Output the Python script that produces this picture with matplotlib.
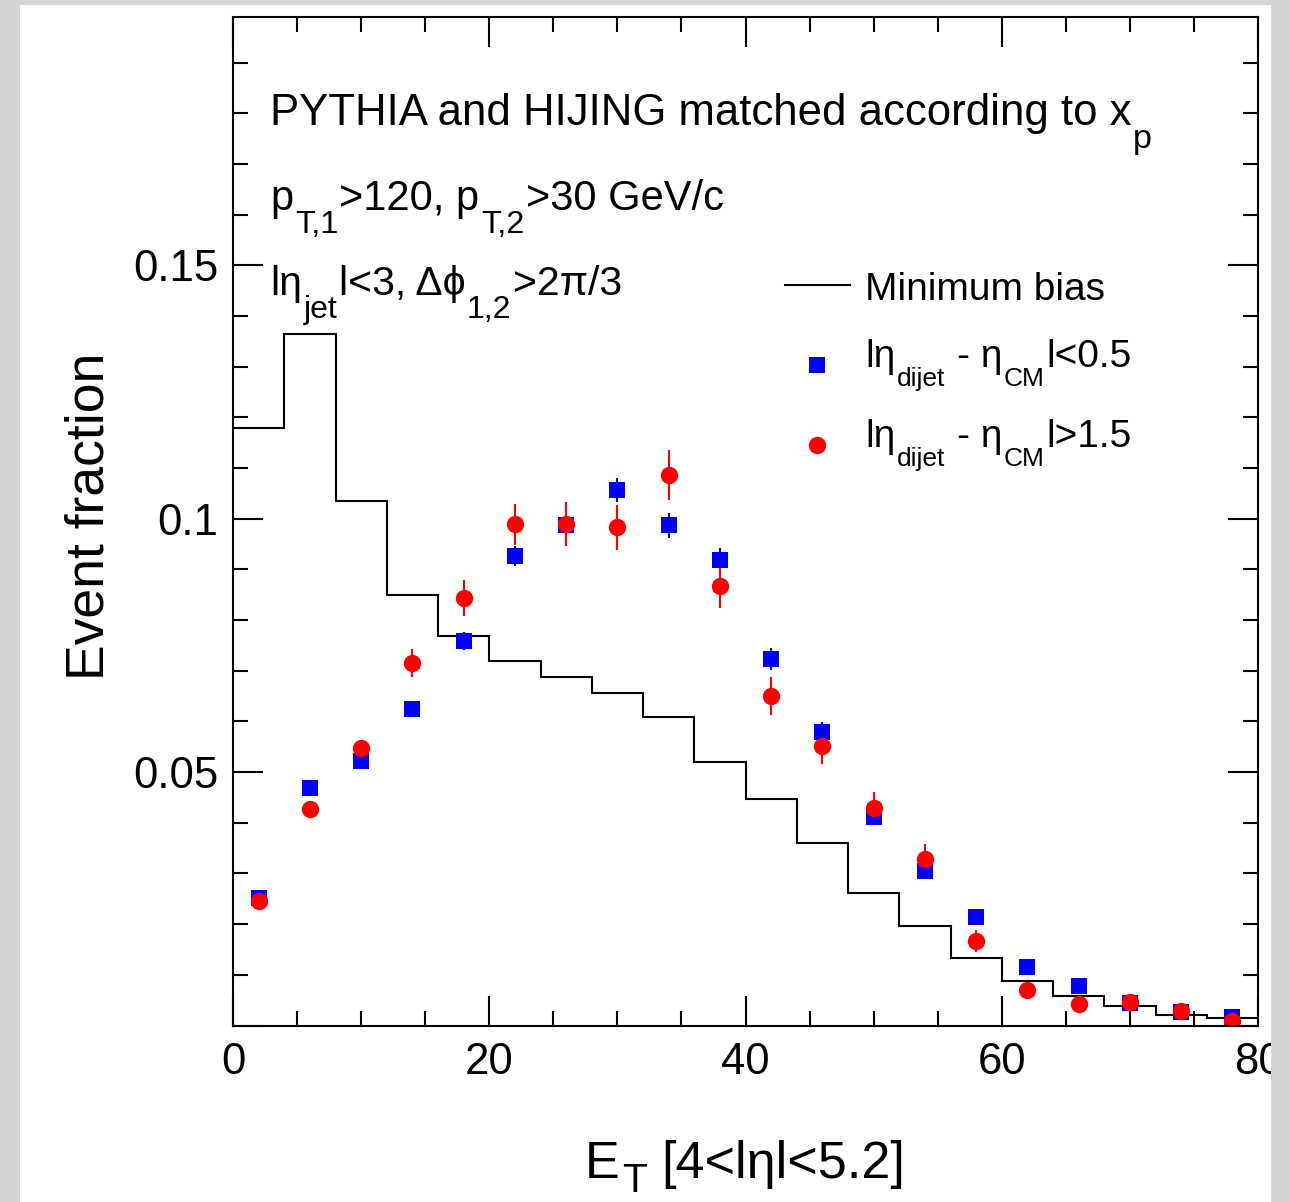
import matplotlib.pyplot as plt
from matplotlib.patches import Rectangle
from matplotlib.lines import Line2D
from matplotlib.ticker import MultipleLocator, FuncFormatter
from matplotlib.transforms import IdentityTransform

plt.rcParams['font.family'] = ['Liberation Sans', 'DejaVu Sans']

W, H = 1289, 1202

# E_T binning (4 GeV wide bins)
bin_edges = [0, 4, 8, 12, 16, 20, 24, 28, 32, 36, 40, 44, 48, 52, 56, 60, 64, 68, 72, 76, 80]
bin_centres = [2, 6, 10, 14, 18, 22, 26, 30, 34, 38, 42, 46, 50, 54, 58, 62, 66, 70, 74, 78]

# minimum bias reference histogram
minbias = [0.1179, 0.1364, 0.1034, 0.0849, 0.0769, 0.0720, 0.0687, 0.0657, 0.0609, 0.0519,
           0.0447, 0.0360, 0.0262, 0.0197, 0.0134, 0.0088, 0.0059, 0.0039, 0.0021, 0.0014]

# |eta_dijet - eta_CM| < 0.5
central = [0.0251, 0.0468, 0.0522, 0.0624, 0.0759, 0.0926, 0.0987, 0.1056, 0.0987, 0.0918,
           0.0723, 0.0579, 0.0411, 0.0305, 0.0215, 0.0115, 0.0077, 0.0044, 0.0026, 0.0016]
central_err = [0.0004, 0.0006, 0.0008, 0.0010, 0.0018, 0.0020, 0.0022, 0.0024, 0.0025, 0.0024,
               0.0022, 0.0020, 0.0016, 0.0013, 0.0010, 0.0007, 0.0005, 0.0004, 0.0003, 0.0002]

# |eta_dijet - eta_CM| > 1.5
forward = [0.0246, 0.0427, 0.0547, 0.0715, 0.0844, 0.0989, 0.0989, 0.0983, 0.1086, 0.0868,
           0.0650, 0.0552, 0.0429, 0.0328, 0.0167, 0.0071, 0.0042, 0.0046, 0.0029, 0.0009]
forward_err = [0.0007, 0.0010, 0.0014, 0.0028, 0.0035, 0.0041, 0.0043, 0.0044, 0.0049, 0.0045,
               0.0037, 0.0036, 0.0032, 0.0030, 0.0021, 0.0012, 0.0009, 0.0008, 0.0006, 0.0005]

fig = plt.figure(figsize=(W / 100, H / 100), dpi=100, facecolor='white')
ax = fig.add_axes([233 / W, 1 - 1025.5 / H, (1258 - 233) / W, (1025.5 - 17) / H])

ax.stairs(minbias, bin_edges, baseline=None, color='black', lw=1.5)
ax.errorbar(bin_centres, central, yerr=central_err, fmt='s', color='#0000ff',
            ms=12, elinewidth=1.5, capsize=0, mew=0)
ax.errorbar(bin_centres, forward, yerr=forward_err, fmt='o', color='#ff0000',
            ms=12.5, elinewidth=1.5, capsize=0, mew=0)

ax.set_xlim(0, 80)
ax.set_ylim(0, 0.199)
ax.xaxis.set_major_locator(MultipleLocator(20))
ax.xaxis.set_minor_locator(MultipleLocator(5))
ax.yaxis.set_major_locator(MultipleLocator(0.05))
ax.yaxis.set_minor_locator(MultipleLocator(0.01))
ax.yaxis.set_major_formatter(FuncFormatter(lambda v, p: '' if abs(v) < 1e-9 else '%g' % v))
ax.tick_params(which='both', direction='in', top=True, right=True, width=1.5, labelsize=31.5)
ax.tick_params(which='major', length=21.6)
ax.tick_params(which='minor', length=10.8)
ax.tick_params(axis='y', pad=10.5)
ax.tick_params(axis='x', pad=12)
for sp in ax.spines.values():
    sp.set_linewidth(1.5)

renderer = fig.canvas.get_renderer()


def latex(x, y, parts, size, sub_scale=0.78, sub_drop=23):
    # draw text pieces left to right, subscripts smaller and lowered (pixel coords, y from top)
    for s, kind in parts:
        if kind == 'gap':
            x += s * size * 100 / 72
            continue
        fs = size * sub_scale if kind == 'sub' else size
        yy = y + sub_drop if kind == 'sub' else y
        t = fig.text(x, H - yy, s, fontsize=fs, transform=IdentityTransform(),
                     ha='left', va='baseline')
        x += t.get_window_extent(renderer).width + 0.04 * fs * 100 / 72


latex(270, 125, [('PYTHIA and HIJING matched according to x', 'n'), ('p', 'sub')], 31.5)
latex(270, 210, [('p', 'n'), ('T,1', 'sub'), ('>120, p', 'n'), ('T,2', 'sub'),
                 ('>30 GeV/c', 'n')], 30)
latex(270, 295, [('lη', 'n'), ('jet', 'sub'), ('l<3, Δϕ', 'n'), ('1,2', 'sub'),
                 ('>2π/3', 'n')], 29.5)

# legend
fig.add_artist(Line2D([785, 850], [H - 285, H - 285], color='black', lw=1.5,
                      transform=IdentityTransform()))
fig.add_artist(Line2D([817], [H - 365], marker='s', ms=12, color='#0000ff', mew=0,
                      transform=IdentityTransform()))
fig.add_artist(Line2D([817], [H - 445], marker='o', ms=12.5, color='#ff0000', mew=0,
                      transform=IdentityTransform()))
latex(865, 300, [('Minimum bias', 'n')], 28)
latex(865, 367, [('lη', 'n'), ('dijet', 'sub'), (0.28, 'gap'), ('- η', 'n'), ('CM', 'sub'),
                 ('l<0.5', 'n')], 28, sub_scale=0.68, sub_drop=19)
latex(865, 447, [('lη', 'n'), ('dijet', 'sub'), (0.28, 'gap'), ('- η', 'n'), ('CM', 'sub'),
                 ('l>1.5', 'n')], 28, sub_scale=0.68, sub_drop=19)

# axis titles
latex(585, 1178, [('E', 'n'), ('T', 'sub'), (0.25, 'gap'), ('[4<lηl<5.2]', 'n')], 37.5,
      sub_scale=0.78, sub_drop=14)
fig.text(104, H - 516, 'Event fraction', fontsize=38.5, rotation=90, rotation_mode='anchor',
         ha='center', va='baseline', transform=IdentityTransform())

# grey frame around the canvas
for x0, y0, w, h in [(0, 0, 20, H), (1271, 0, W - 1271, H), (0, H - 5, W, 5)]:
    fig.add_artist(Rectangle((x0, y0), w, h, facecolor='#d4d4d4', edgecolor='none',
                             transform=IdentityTransform(), zorder=10))

fig.savefig('out.png', dpi=100)
